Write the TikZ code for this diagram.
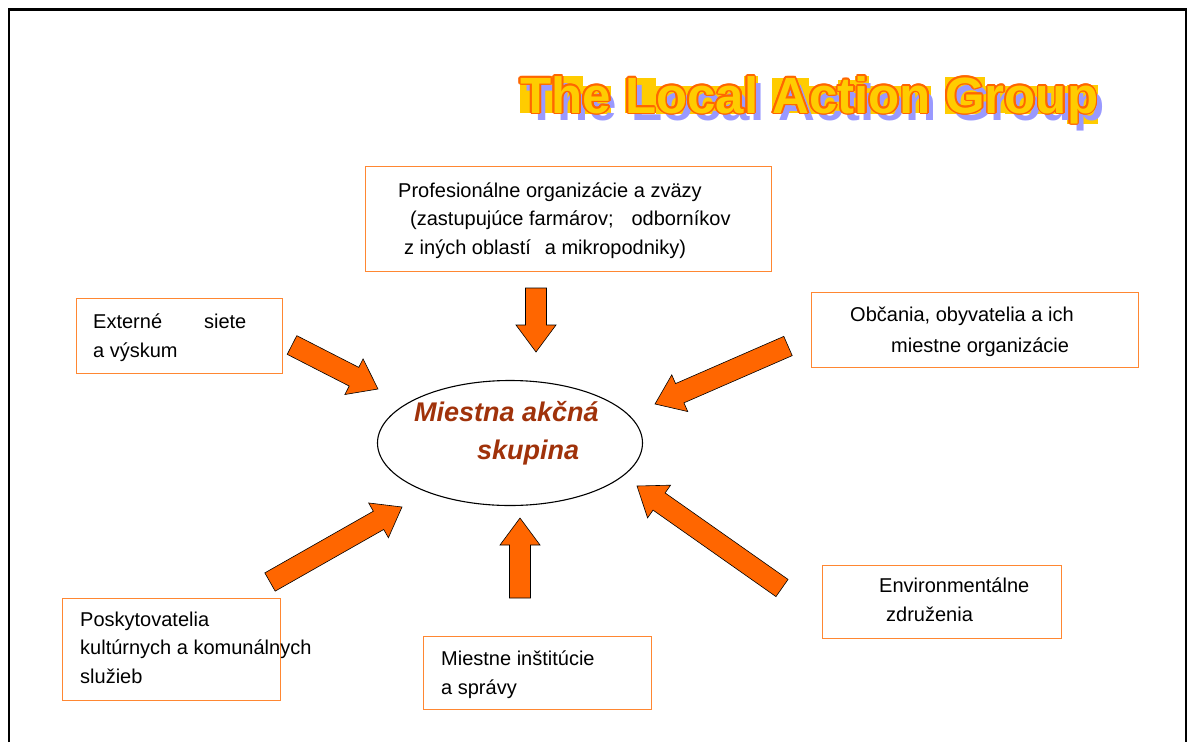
\documentclass[tikz,border=0pt]{standalone}
\usepackage{fontspec}
\setmainfont{Liberation Sans}
\usetikzlibrary{calc, shapes.geometric}

\definecolor{boxorange}{RGB}{255,135,50}
\definecolor{arroworange}{RGB}{255,102,0}
\definecolor{titleyellow}{RGB}{255,204,0}
\definecolor{titleorange}{RGB}{255,102,0}
\definecolor{titleshadow}{RGB}{153,153,255}
\definecolor{groupbrown}{RGB}{160,50,10}

% title letters, optionally on yellow glyph boxes
\newif\iftboxes
\newcommand{\tletter}[1]{\iftboxes{\fboxsep=0pt\colorbox{titleyellow}{#1}}\else\mbox{#1}\fi}
\newcommand{\lagtitle}{\tletter{T}\tletter{h}\tletter{e} \tletter{L}\tletter{o}\tletter{c}\tletter{a}\tletter{l} \tletter{A}\tletter{c}\tletter{t}\tletter{i}\tletter{o}\tletter{n} \tletter{G}\tletter{r}\tletter{o}\tletter{u}\tletter{p}}

% block arrow: tail, tip, shaft half width, head half width, head length
\newcommand{\blockarrow}[5]{%
  \coordinate (hb) at ($(#2)!#5!(#1)$);
  \draw[bigarrow] ($(#1)!#3!90:(#2)$) -- ($(hb)!#3!90:(#2)$) -- ($(hb)!#4!90:(#2)$) -- (#2)
    -- ($(hb)!#4!-90:(#2)$) -- ($(hb)!#3!-90:(#2)$) -- ($(#1)!#3!-90:(#2)$) -- cycle;
}

\tikzset{
  orgbox/.style={draw=boxorange, line width=1.4pt, anchor=north west, inner sep=0pt},
  % multi-line text: placed at the baseline of its last line
  orgtext/.style={anchor=base west, align=left, inner sep=0pt, font=\fontsize{20}{28.5}\selectfont},
  bigarrow/.style={fill=arroworange, draw=black, line width=0.6pt, line join=miter},
  titlefont/.style={anchor=base west, inner sep=0pt, font=\fontsize{51}{60}\selectfont\bfseries}
}

\begin{document}
\begin{tikzpicture}[x=1pt, y=-1pt]
  \useasboundingbox (0,0) rectangle (1188,742);
  \draw[line width=2.5pt] (9,742) -- (9,9.5) -- (1186,9.5) -- (1186,742);

  % Title
  \node[titlefont] (titleboxes) at (520,113) {\tboxestrue\lagtitle};
  \node[titlefont, text=titleshadow] (titleshade) at (526,120) {\lagtitle};
  \foreach \a in {0,30,...,330}
  \node[titlefont, text=titleorange, shift={(\a:1.8pt)}] at (520,113) {\lagtitle};
  \node[titlefont, text=titleyellow] (title) at (520,113) {\lagtitle};

  % Boxes
  \node[orgbox, minimum width=406, minimum height=105] (profbox) at (365,166) {};
  \node[orgtext] (proftext) at (398,254) {Profesionálne organizácie a zväzy\\
    \hspace*{12pt}(zastupujúce farmárov;\hspace{18pt}odborníkov\\
    \hspace*{6pt}z iných oblastí\hspace{14pt}a mikropodniky)};
  \node[orgbox, minimum width=206, minimum height=75] (extbox) at (76,298) {};
  \node[orgtext] (exttext) at (93,357) {Externé\hspace{42pt}siete\\a výskum};
  \node[orgbox, minimum width=327, minimum height=75] (obcbox) at (811,292) {};
  \node[orgtext, font=\fontsize{20}{31}\selectfont] (obctext) at (850,352) {Občania, obyvatelia a ich\\
    \hspace*{41pt}miestne organizácie};
  \node[orgbox, minimum width=239, minimum height=73] (envbox) at (822,565) {};
  \node[orgtext] (envtext) at (879,621) {Environmentálne\\\hspace*{7pt}združenia};
  \node[orgbox, minimum width=228, minimum height=73] (miebox) at (423,636) {};
  \node[orgtext] (mietext) at (441,694) {Miestne inštitúcie\\a správy};
  \node[orgbox, minimum width=218, minimum height=102] (posbox) at (62,598) {};
  \node[orgtext] (postext) at (80,683) {Poskytovatelia\\kultúrnych a komunálnych\\služieb};

  % Centre
  \node[draw, ellipse, line width=1.1pt, minimum width=265, minimum height=125, inner sep=0pt]
    (group) at (510,443) {};
  \node[anchor=base west, align=left, inner sep=0pt, text=groupbrown,
    font=\fontsize{27}{38}\selectfont\bfseries\itshape]
    (grouptext) at (414,459) {Miestna akčná\\\hspace*{63pt}skupina};

  % Arrows
  \coordinate (proftail) at (536,288);  \coordinate (proftip) at (536,352);
  \coordinate (exttail) at (292,345);   \coordinate (exttip) at (378,389);
  \coordinate (obctail) at (788,346);   \coordinate (obctip) at (655,404);
  \coordinate (envtail) at (782,588);   \coordinate (envtip) at (637,486);
  \coordinate (mietail) at (520,598);   \coordinate (mietip) at (520,518);
  \coordinate (postail) at (270,582);   \coordinate (postip) at (402,507);
  \foreach \a in {prof,ext,obc,env,mie,pos}
  \blockarrow{\a tail}{\a tip}{10.5pt}{20pt}{27pt};
\end{tikzpicture}
\end{document}
